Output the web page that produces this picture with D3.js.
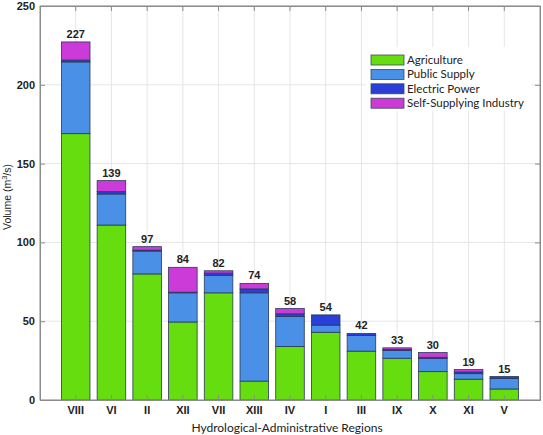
<!DOCTYPE html>
<html><head><meta charset="utf-8">
<script src="https://cdn.jsdelivr.net/npm/d3@7"></script>
<style>body{margin:0;background:#fff}svg{display:block}</style>
</head><body>
<svg id="chart" width="543" height="435"></svg>
<script>
const regions = ["VIII","VI","II","XII","VII","XIII","IV","I","III","IX","X","XI","V"];
const agriculture = [169,111,80,49.5,68,12,34,43,31,26.5,18,13.2,7];
const publicSupply = [45.5,19.7,14.5,18.5,11,56,19,4.5,10,5,8.3,3.5,6.7];
const electricPower = [1.2,1.5,0.6,0.4,1.5,2.5,1.7,6.5,1.2,0.6,0.8,1.1,1.2];
const selfSupplying = [11.5,7,2.2,15.8,1.5,3.5,3.3,0,0,1,3,1.5,0];
const totals = [227,139,97,84,82,74,58,54,42,33,30,19,15];
const yTicks = [0,50,100,150,200,250];
const seriesNames = ["Agriculture","Public Supply","Electric Power","Self-Supplying Industry"];
const seriesColors = ["#66dd0f","#4a90e6","#2a3ed8","#cc3ad8"];

const svg = d3.select("#chart");
const L = 40, R = 540, T = 6, B = 400;
const x = d3.scaleBand().domain(regions).range([L, R]).paddingInner(0.2).paddingOuter(0.6);
const y = d3.scaleLinear().domain([0, 250]).range([B, T]);

// grid
const g = svg.append("g");
g.selectAll(".gy").data(yTicks).join("line")
  .attr("x1", L).attr("x2", R).attr("y1", d => y(d)).attr("y2", d => y(d))
  .attr("stroke", "#e6e6e6").attr("stroke-width", 1);
g.selectAll(".gx").data(regions).join("line")
  .attr("x1", d => x(d) + x.bandwidth()/2).attr("x2", d => x(d) + x.bandwidth()/2)
  .attr("y1", T).attr("y2", B)
  .attr("stroke", "#e6e6e6").attr("stroke-width", 1);

// stacked bars
const rows = regions.map((r, i) => ({region: r, a: agriculture[i], p: publicSupply[i], e: electricPower[i], s: selfSupplying[i]}));
const stack = d3.stack().keys(["a","p","e","s"])(rows);
stack.forEach((layer, k) => {
  svg.append("g").selectAll("rect").data(layer.filter(d => d[1] - d[0] > 0)).join("rect")
    .attr("x", d => x(d.data.region))
    .attr("width", x.bandwidth())
    .attr("y", d => y(d[1]))
    .attr("height", d => y(d[0]) - y(d[1]))
    .attr("fill", seriesColors[k])
    .attr("stroke", "#2a3a5a").attr("stroke-width", 0.8);
});

// totals
const sums = regions.map((r, i) => agriculture[i] + publicSupply[i] + electricPower[i] + selfSupplying[i]);
svg.append("g").selectAll("text").data(regions).join("text")
  .attr("x", d => x(d) + x.bandwidth()/2)
  .attr("y", (d, i) => y(sums[i]) - 4)
  .attr("text-anchor", "middle")
  .attr("font-family", "Liberation Sans, Arial, sans-serif")
  .attr("font-size", 11).attr("font-weight", "bold").attr("fill", "#222")
  .text((d, i) => totals[i]);

// axes box
const axisColor = "#8c8c8c";
svg.append("rect").attr("x", L).attr("y", T).attr("width", R-L).attr("height", B-T)
  .attr("fill", "none").attr("stroke", axisColor).attr("stroke-width", 1);

const xAxis = svg.append("g").attr("transform", `translate(0,${B})`)
  .call(d3.axisBottom(x).tickSize(-5).tickPadding(6));
const xTop = svg.append("g").attr("transform", `translate(0,${T})`)
  .call(d3.axisTop(x).tickSize(-5).tickFormat(""));
const yAxis = svg.append("g").attr("transform", `translate(${L},0)`)
  .call(d3.axisLeft(y).tickValues(yTicks).tickSize(-5).tickPadding(5));
const yRight = svg.append("g").attr("transform", `translate(${R},0)`)
  .call(d3.axisRight(y).tickValues(yTicks).tickSize(-5).tickFormat(""));
[xAxis, xTop, yAxis, yRight].forEach(a => {
  a.select(".domain").attr("stroke", axisColor);
  a.selectAll(".tick line").attr("stroke", axisColor);
  a.selectAll("text").attr("font-family", "Liberation Sans, Arial, sans-serif")
    .attr("font-size", 11).attr("font-weight", "bold").attr("fill", "#222");
});

// axis titles
svg.append("text").attr("x", 287).attr("y", 432).attr("text-anchor", "middle")
  .attr("font-family", "Lato, Open Sans, sans-serif").attr("font-size", 12).attr("fill", "#222")
  .text("Hydrological-Administrative Regions");
svg.append("text").attr("transform", "translate(11,197) rotate(-90)").attr("text-anchor", "middle")
  .attr("font-family", "Liberation Sans, Arial, sans-serif").attr("font-size", 10.5).attr("fill", "#222")
  .html('Volume (m<tspan dy="-4" font-size="7.5">3</tspan><tspan dy="4">/s)</tspan>');

// legend
const lg = svg.append("g");
lg.append("rect").attr("x", 366).attr("y", 47).attr("width", 166).attr("height", 64).attr("fill", "#fff");
const items = lg.selectAll("g").data(seriesNames).join("g")
  .attr("transform", (d, i) => `translate(371,${55 + i*14.4})`);
items.append("rect").attr("width", 33).attr("height", 10).attr("fill", (d, i) => seriesColors[i])
  .attr("stroke", "#3a4a5a").attr("stroke-width", 0.8);
items.append("text").attr("x", 36).attr("y", 9)
  .attr("font-family", "Lato, Open Sans, sans-serif").attr("font-size", 11.5).attr("fill", "#222")
  .text(d => d);
</script>
</body></html>
